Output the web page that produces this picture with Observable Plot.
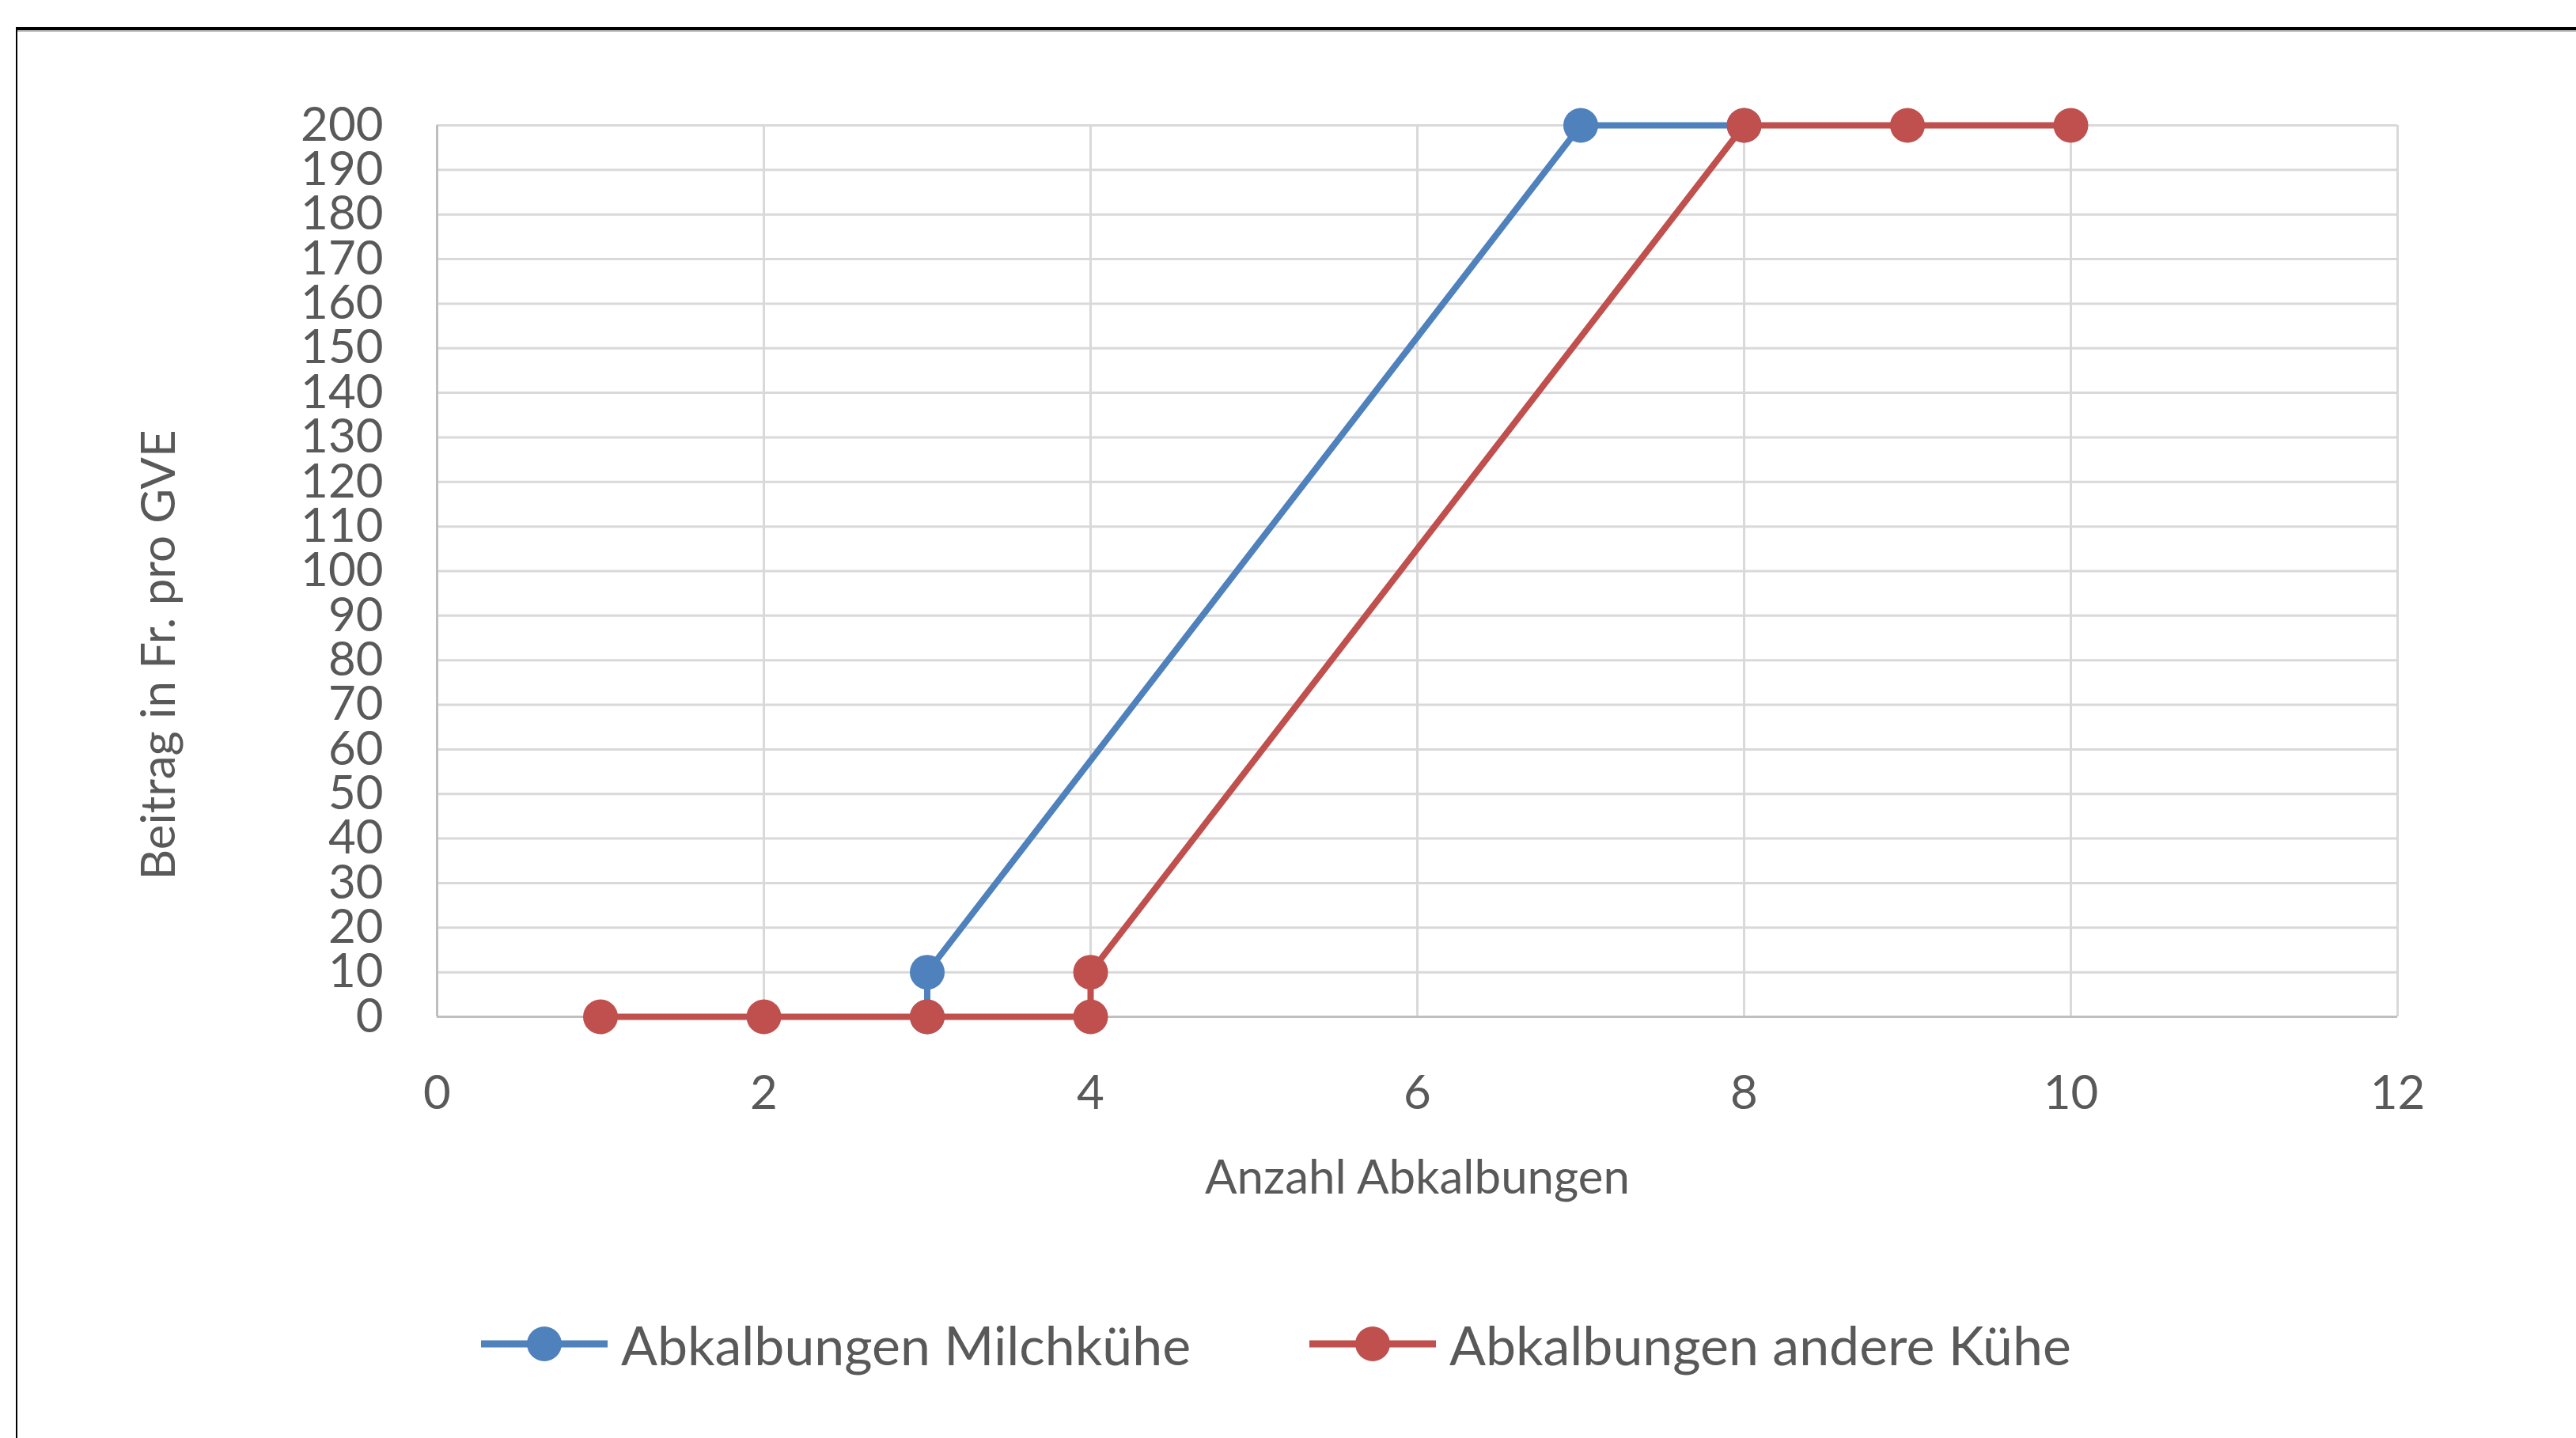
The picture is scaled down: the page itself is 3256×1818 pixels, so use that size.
<!DOCTYPE html>
<html><head><meta charset="utf-8">
<script src="https://cdn.jsdelivr.net/npm/d3@7"></script>
<script src="https://cdn.jsdelivr.net/npm/@observablehq/plot@0.6"></script>
<style>
body{margin:0;background:#fff;width:3256px;height:1818px;overflow:hidden;position:relative;font-family:Lato,"Open Sans",sans-serif}
#frame{position:absolute;left:20px;top:34px;width:3400px;height:1900px;border-top:4px solid #000;border-left:2px solid #000;box-sizing:border-box}
#frame2{position:absolute;left:22px;top:38px;width:3400px;height:2px;background:#aaa}
#chart{position:absolute;left:0;top:0}
.item{position:absolute;top:1649px;height:100px;display:flex;align-items:center;font-size:68px;color:#595959;white-space:nowrap}
.item svg{margin-right:17px}
</style></head>
<body>
<div id="frame"></div><div id="frame2"></div>
<div id="chart"></div>
<div id="legend"></div>
<script>
// Data
const seriesNames = ["Abkalbungen Milchkühe", "Abkalbungen andere Kühe"];
const seriesColors = ["#4F81BD", "#C0504D"];
const milchX = [3, 3, 7, 8];
const milchY = [0, 10, 200, 200];
const andereX = [1, 2, 3, 4, 4, 8, 9, 10];
const andereY = [0, 0, 0, 0, 10, 200, 200, 200];
const xTicks = [0, 2, 4, 6, 8, 10, 12];
const yTicks = [0,10,20,30,40,50,60,70,80,90,100,110,120,130,140,150,160,170,180,190,200];
const xTitle = "Anzahl Abkalbungen";
const yTitle = "Beitrag in Fr. pro GVE";

const milch = milchX.map((x, i) => ({x, y: milchY[i]}));
const andere = andereX.map((x, i) => ({x, y: andereY[i]}));

const chart = Plot.plot({
  width: 3256,
  height: 1560,
  marginLeft: 552,
  marginRight: 226,
  marginTop: 158,
  marginBottom: 275,
  x: {domain: [0, 12]},
  y: {domain: [0, 200]},
  style: {fontFamily: "Lato, 'Open Sans', sans-serif", color: "#595959", background: "transparent"},
  marks: [
    Plot.gridY(yTicks.filter(d => d > 0), {stroke: "#D9D9D9", strokeOpacity: 1, strokeWidth: 3}),
    Plot.gridX(xTicks.filter(d => d > 0), {stroke: "#D9D9D9", strokeOpacity: 1, strokeWidth: 3}),
    Plot.ruleX([0], {stroke: "#BFBFBF", strokeWidth: 3}),
    Plot.ruleY([0], {stroke: "#BFBFBF", strokeWidth: 3}),
    Plot.axisY(yTicks, {tickSize: 0, tickPadding: 68, fontSize: 60, label: null, fill: "#595959", tickFormat: d => String(d)}),
    Plot.axisX(xTicks, {tickSize: 0, tickPadding: 74, fontSize: 60, label: null, fill: "#595959", tickFormat: d => String(d)}),
    Plot.text([xTitle], {frameAnchor: "bottom", dy: 204, fontSize: 60, fill: "#595959", lineAnchor: "middle", textAnchor: "middle"}),
    Plot.text([yTitle], {frameAnchor: "left", dx: -351, dy: 106, rotate: -90, fontSize: 60, fill: "#595959", lineAnchor: "middle", textAnchor: "middle"}),
    Plot.line(milch, {x: "x", y: "y", stroke: seriesColors[0], strokeWidth: 8}),
    Plot.dot(milch, {x: "x", y: "y", r: 22, fill: seriesColors[0], stroke: null}),
    Plot.line(andere, {x: "x", y: "y", stroke: seriesColors[1], strokeWidth: 8}),
    Plot.dot(andere, {x: "x", y: "y", r: 22, fill: seriesColors[1], stroke: null})
  ]
});
document.getElementById("chart").appendChild(chart);

// Legend
const legend = document.getElementById("legend");
const lefts = [608, 1655];
seriesNames.forEach((name, i) => {
  const div = document.createElement("div");
  div.className = "item";
  div.style.left = lefts[i] + "px";
  const c = seriesColors[i];
  div.innerHTML = `<svg width="160" height="50"><line x1="0" x2="160" y1="25" y2="25" stroke="${c}" stroke-width="9"/><circle cx="80" cy="25" r="22" fill="${c}"/></svg><span>${name}</span>`;
  legend.appendChild(div);
});
</script>
</body></html>
